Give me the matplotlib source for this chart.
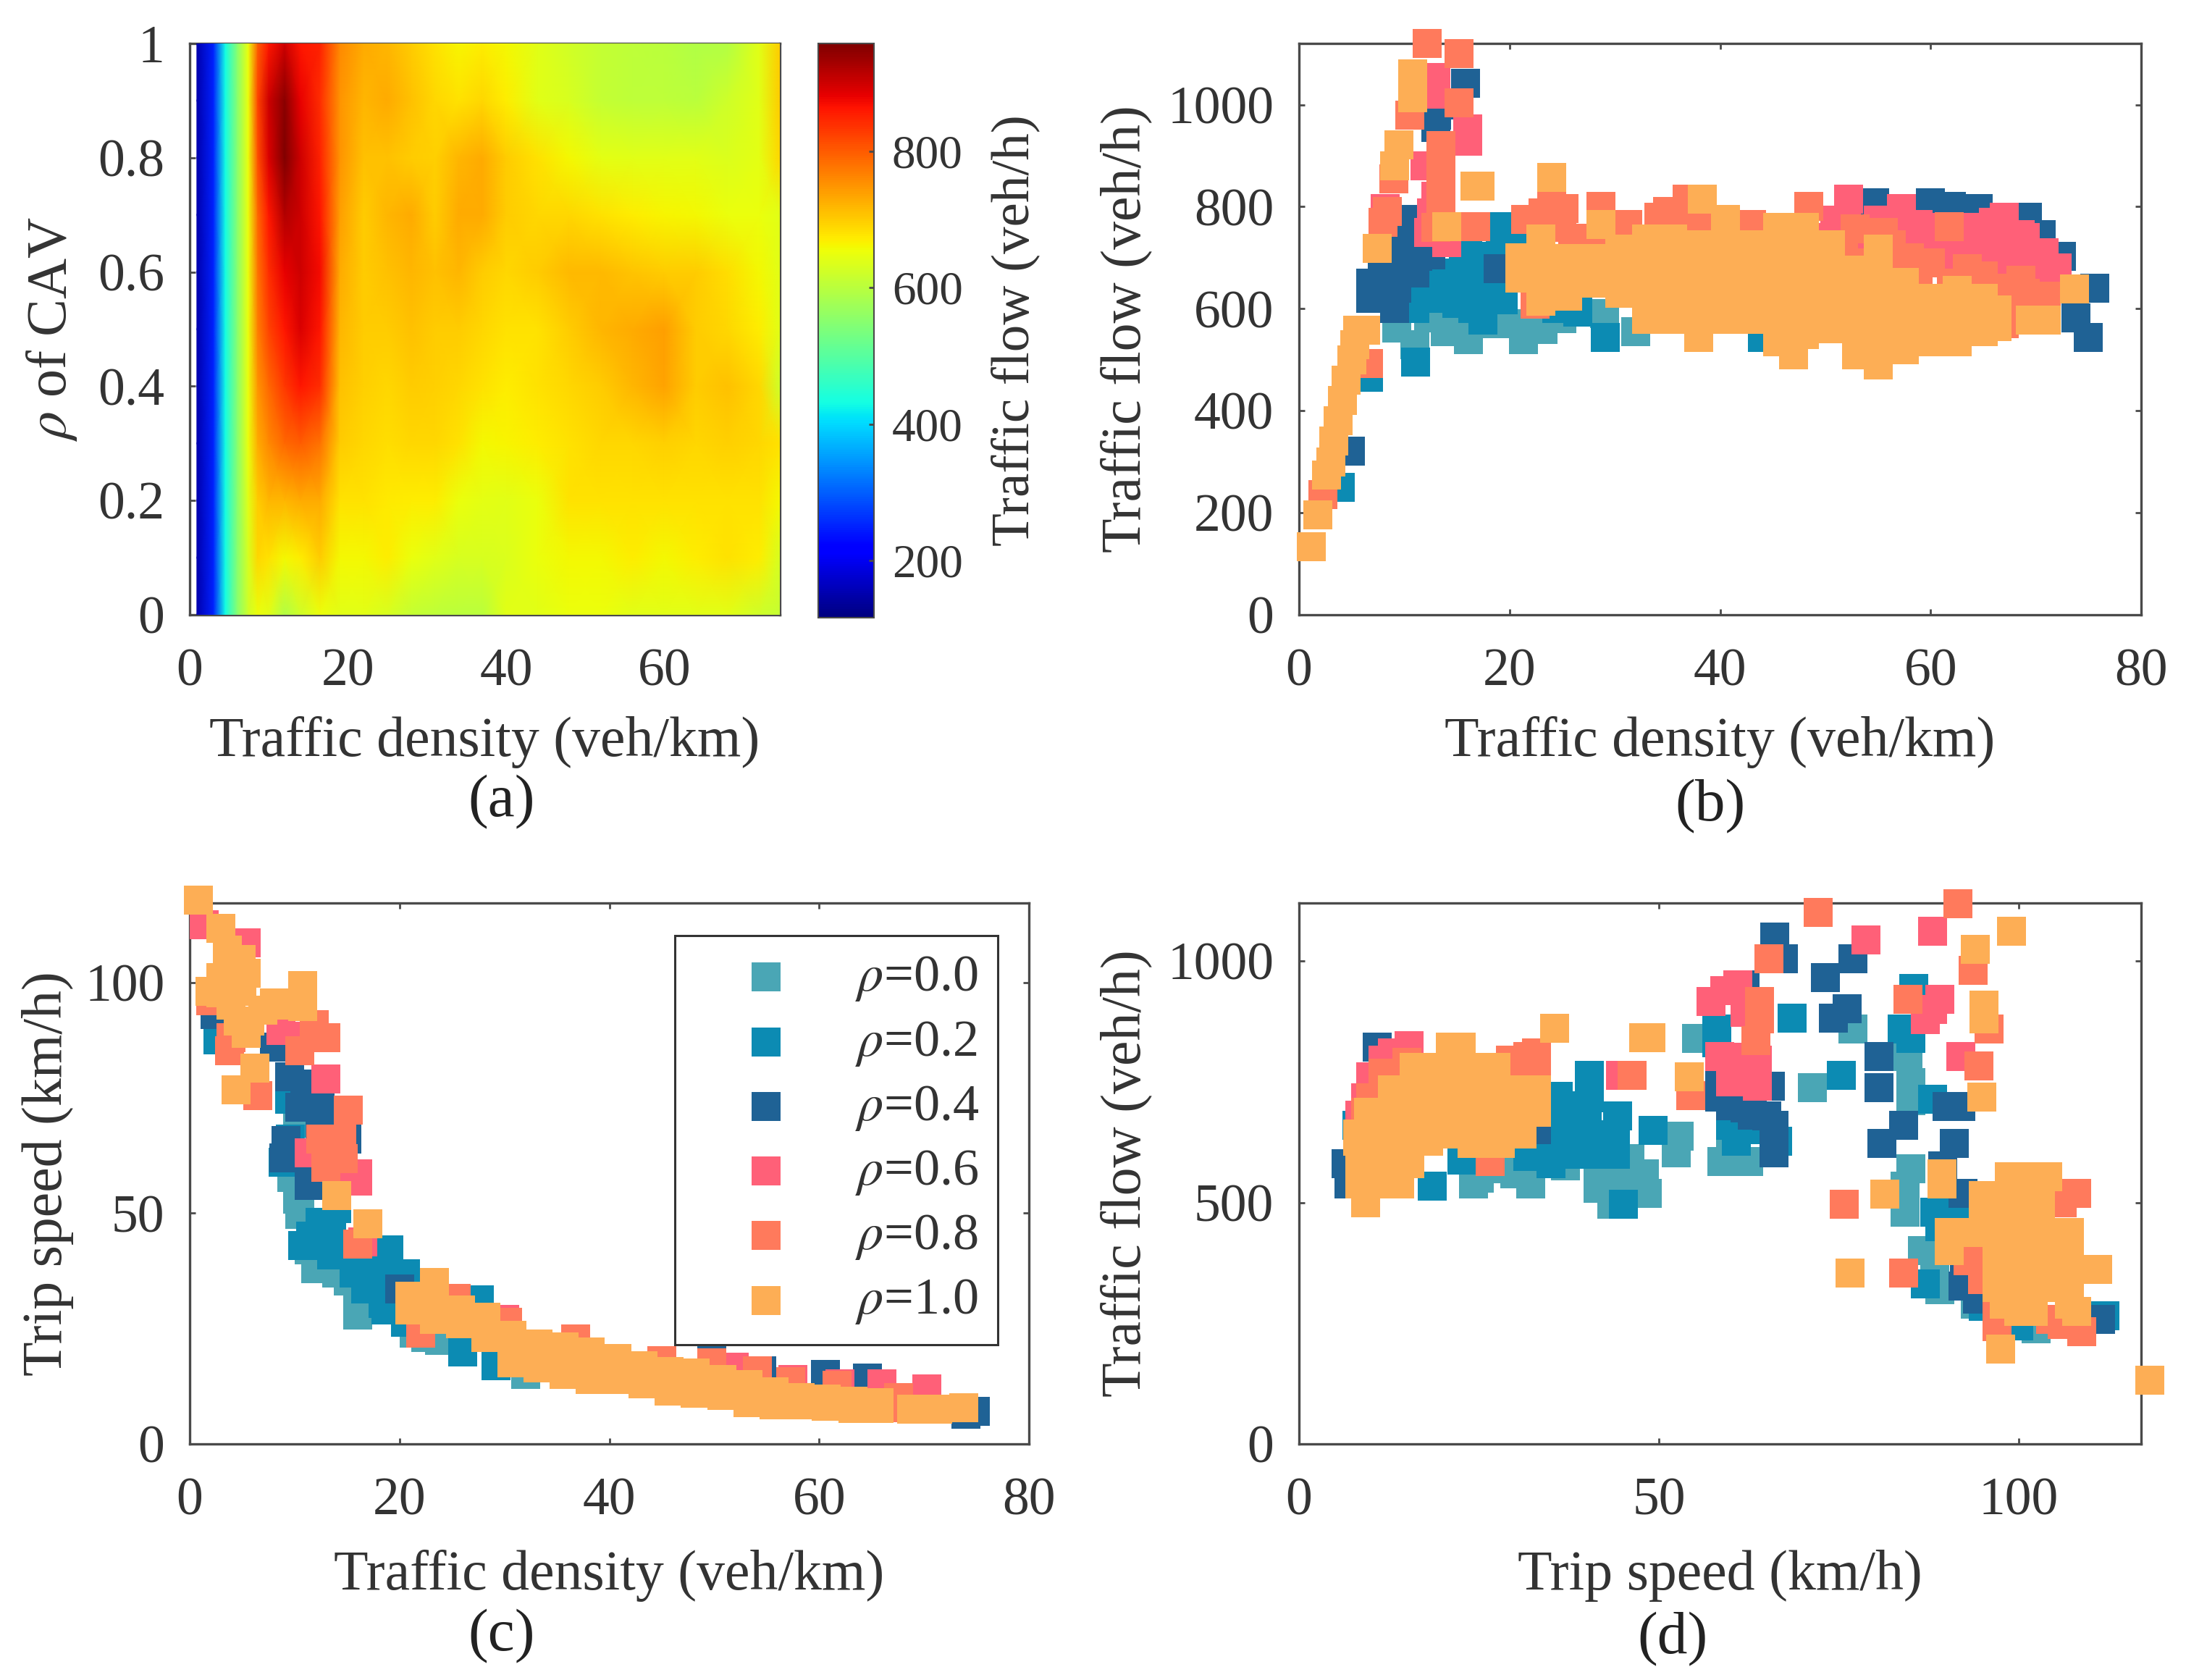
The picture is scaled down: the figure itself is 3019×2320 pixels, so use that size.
#!/usr/bin/env python3
# -*- coding: utf-8 -*-

import numpy as np
import matplotlib
matplotlib.use('Agg')
import matplotlib.pyplot as plt

plt.rcParams['font.family'] = ['Liberation Serif', 'DejaVu Serif']
plt.rcParams['mathtext.fontset'] = 'stix'

W, H = 3019, 2320
fs_tick = 53
fs_label = 56
fs_cap = 60
line_c = '#4a4a4a'
text_c = '#333333'

rho_labels = ['$\\rho$=0.0', '$\\rho$=0.2', '$\\rho$=0.4', '$\\rho$=0.6', '$\\rho$=0.8', '$\\rho$=1.0']
colors = ['#4AA6B5', '#0C8BB3', '#1F6295', '#FF6078', '#FF7A5C', '#FDAE55']

# (a) heat map, flow for density (columns) and CAV ratio (rows)
heat_density = [0.9, 3, 4.5, 6, 7.4, 8.6, 10, 12, 14, 16.5, 19, 22, 25, 28, 31, 34, 37, 40, 44, 48, 52, 56, 60, 64, 68, 72, 74.6]
heat_rho = [0, 0.1, 0.2, 0.3, 0.4, 0.5, 0.6, 0.7, 0.8, 0.9, 1.0]
heat_flow = [
    [150, 250, 430, 550, 620, 650, 640, 590, 620, 650, 640, 640, 630, 610, 605, 600, 600, 640, 640, 650, 650, 640, 640, 640, 640, 620, 610],
    [150, 250, 430, 550, 630, 690, 680, 660, 670, 700, 660, 660, 670, 650, 640, 630, 630, 635, 650, 660, 660, 670, 660, 670, 680, 670, 630],
    [150, 250, 430, 550, 640, 700, 720, 720, 730, 730, 680, 680, 675, 670, 670, 650, 645, 640, 650, 680, 680, 680, 680, 680, 680, 680, 660],
    [150, 250, 430, 550, 650, 730, 760, 790, 800, 780, 700, 690, 685, 690, 690, 680, 660, 665, 670, 680, 690, 690, 695, 690, 695, 690, 680],
    [150, 250, 430, 550, 650, 750, 790, 830, 860, 840, 710, 695, 690, 700, 695, 690, 680, 670, 680, 690, 700, 720, 735, 700, 710, 690, 620],
    [150, 250, 430, 550, 650, 770, 820, 860, 890, 860, 720, 700, 700, 710, 700, 700, 690, 680, 680, 700, 720, 730, 740, 700, 690, 670, 640],
    [150, 250, 430, 550, 650, 780, 840, 880, 900, 870, 730, 700, 710, 720, 710, 720, 700, 690, 700, 715, 715, 705, 700, 700, 685, 660, 640],
    [150, 250, 430, 550, 650, 790, 860, 920, 900, 860, 740, 700, 720, 730, 700, 730, 730, 700, 690, 690, 680, 670, 665, 660, 650, 650, 640],
    [150, 250, 430, 550, 650, 810, 890, 955, 900, 850, 750, 710, 710, 700, 695, 720, 730, 700, 680, 660, 645, 640, 640, 640, 635, 645, 690],
    [150, 250, 430, 550, 650, 820, 900, 950, 880, 840, 750, 720, 730, 710, 690, 680, 690, 670, 640, 630, 610, 605, 605, 600, 620, 640, 700],
    [150, 250, 430, 550, 650, 800, 860, 900, 860, 850, 760, 730, 720, 700, 680, 665, 670, 660, 640, 625, 610, 605, 600, 590, 595, 640, 700],
]

# (b) density, flow
b_rho00 = [(12.3, 582), (9.3, 562), (11, 530), (13.9, 555), (16.1, 539), (21.3, 539), (23.2, 559), (25, 580), (32, 555), (29, 590), (18.5, 570), (15, 590), (21, 570)]
b_rho02 = [(19.1, 761), (19.1, 720), (21, 745), (17.2, 703), (15.6, 679), (13.4, 656), (11.5, 632), (14.5, 625), (17.5, 601), (17.5, 578), (19.4, 617), (26.5, 594), (29.1, 543),
           (11.1, 496), (44, 543), (18, 650), (16, 720), (15, 640), (12, 660), (3.9, 250), (6.6, 465), (24.5, 600), (20, 690), (16, 650), (13, 620), (16.5, 600), (19, 660), (14, 670), (17.5, 700),
           (11, 600), (15, 610)]
b_rho04 = [(15.8, 1042), (13.1, 979), (13, 955), (7.9, 664), (6.8, 621), (9.1, 601), (9.3, 640), (11.3, 703), (9.8, 742), (18.9, 679), (54.7, 808), (60, 808), (64.5, 796),
           (64.5, 777), (62, 800), (69.2, 780), (70.5, 745), (72.4, 703), (75.6, 640), (73.8, 582), (75, 543), (71.4, 664), (4.9, 321), (11, 670), (14, 1000),
           (8, 690), (10.5, 690), (12.5, 705), (10, 710), (6.8, 650), (9, 660), (10, 775)]
b_rho06 = [(13, 1053), (13, 1020), (16, 929), (16, 952), (12.3, 750), (12.6, 788), (8.2, 796), (14, 730), (52.2, 815), (50.9, 773), (57.2, 796), (58.8, 765), (55, 773), (67, 780), (68.5, 745),
           (64.8, 703), (70.8, 710), (68, 710), (61, 718), (59.3, 718), (63.2, 725), (66, 735), (53, 735), (60, 760), (64, 760), (12, 880), (13, 820), (62, 750), (66, 700), (55, 745), (57, 750),
           (70, 680), (72, 680), (69, 740), (50, 740), (61, 700), (67, 660), (64, 740), (66, 770), (52, 770), (60, 735)]
b_rho08 = [(12.2, 1120), (15.2, 1100), (15.2, 1003), (10.5, 979), (13.5, 920), (13.5, 870), (13.5, 820), (13.5, 790), (9, 855), (8.4, 790), (8, 770), (16.8, 761),
           (23.2, 788), (25.2, 796), (28.7, 800), (31.2, 765), (26, 738), (28, 730), (34.2, 780), (36.9, 815), (38.6, 773), (43, 765), (48.4, 800), (56.3, 726), (56.6, 687),
           (61.8, 761), (63.5, 679), (68.6, 656), (71, 625), (51.7, 710), (52.8, 757), (58.8, 664), (67, 570), (22.4, 609), (24.3, 640), (6.6, 492), (2.3, 235), (24, 825),
           (35, 790), (13, 760), (69, 630), (70, 600), (36, 770), (38, 760), (30, 745), (25, 760), (21.5, 775), (66, 640), (54, 690), (56, 660), (60, 690), (62, 650), (65, 665), (31, 735), (41, 755), (43, 745),
           (55.5, 750), (52, 690), (58, 700), (68, 600), (66, 615)]
b_rho10 = [(1.2, 134), (1.8, 196), (2.6, 274), (3, 300), (3.3, 340), (3.7, 380), (4.1, 420), (4.5, 460), (5, 500), (5.3, 530), (5.6, 558), (6.3, 558), (7.4, 718), (9.5, 921), (9.1, 880), (10.8, 1061),
           (10.8, 1014), (17.2, 840), (16.7, 840), (14, 761), (24, 858), (28.7, 765), (38.3, 815), (40.5, 775),
           (21, 700), (21, 660), (23, 737), (23, 695), (23, 655), (23, 615), (25.5, 698), (25.5, 655), (25.5, 625), (28, 698), (28, 650), (30.5, 717), (30.5, 672), (30.5, 630),
           (33, 737), (33, 695), (33, 650), (33, 605), (33, 579), (35.5, 737), (35.5, 695), (35.5, 650), (35.5, 605), (35.5, 579),
           (38, 725), (38, 680), (38, 635), (38, 590), (38, 544), (40.5, 725), (40.5, 680), (40.5, 635), (40.5, 590), (40.5, 579), (43, 725), (43, 680), (43, 635), (43, 590), (43, 579),
           (45.5, 760), (45.5, 715), (45.5, 670), (45.5, 625), (45.5, 580), (45.5, 535), (47, 510), (48, 760), (48, 715), (48, 670), (48, 625), (48, 580), (48, 550),
           (50.5, 725), (50.5, 680), (50.5, 635), (50.5, 590), (50.5, 560), (53, 675), (53, 630), (53, 585), (53, 540), (53, 510),
           (55, 717), (55, 672), (55, 627), (55, 582), (55, 537), (55, 490), (57.5, 651), (57.5, 606), (57.5, 561), (57.5, 520), (60, 620), (60, 580), (60, 535),
           (62.5, 636), (62.5, 590), (62.5, 535), (65, 620), (65, 580), (65, 555), (66.3, 597), (66.3, 565), (73.7, 639), (69.5, 578), (71, 578)]

# (c) density, trip speed
c_rho00 = [(10.3, 69.5), (9.7, 57.8), (10.5, 49.7), (10.3, 53), (11.4, 42), (13.3, 40.9), (15.1, 35.3), (16, 31.2), (17.9, 29.6), (21.4, 24), (23.8, 22.4), (32, 15), (12, 38), (14, 37), (16, 28), (22.5, 23)]
c_rho02 = [(9.5, 74.7), (12.4, 48), (10.8, 43), (17, 39), (18.7, 39), (16.8, 33.6), (18.4, 30.4), (20.6, 36.9), (29.2, 17), (8.9, 61), (13.5, 41), (15, 43), (2.7, 87.6), (20.6, 26.4), (27.6, 31.2),
           (26, 20), (13.5, 47), (11.5, 45), (15.7, 41), (15.7, 37), (17, 36), (18.7, 36), (18.7, 29), (13.3, 45), (14, 51), (19, 42), (9.6, 66), (19.5, 32), (20, 29)]
c_rho04 = [(9.5, 79.5), (12.4, 73), (9.2, 65.8), (15, 66), (8.1, 86), (11.4, 56), (20, 33.6), (74.9, 7), (74, 6.5), (64.6, 14.3), (60.6, 15), (54.5, 15.8), (2.4, 93), (49.8, 18), (9, 62), (11, 62), (11, 78), (12.4, 68), (10.5, 73)]
c_rho06 = [(13, 79), (8.7, 89.6), (11.4, 88.4), (16, 58.6), (11.4, 63), (16, 57), (1.4, 112.5), (5.4, 108.5), (51.9, 16.7), (57.5, 14), (66, 13.1), (70.3, 11.9), (16.5, 43.7), (30, 27), (62, 13), (14, 58)]
c_rho08 = [(25.4, 31.6), (11.9, 90.8), (10.5, 85.2), (3.8, 85.2), (6.5, 75.5), (15.1, 72.3), (14, 65), (14.6, 61.8), (16, 43.3), (22, 24), (54.1, 15.9), (49.8, 17.5), (45, 18), (36.8, 22.8),
           (30.3, 26.4), (57.3, 13.5), (61.7, 12.7), (67.6, 7.9), (67.6, 10), (13, 88), (13, 64), (2, 96), (13, 60), (14.5, 66), (12.5, 66), (3.9, 88)]
c_rho10 = [(0.8, 117.8), (3, 111.7), (3.6, 107), (3, 101), (4.9, 105), (5.4, 102), (1.9, 98), (3, 97.7), (5, 98), (4.6, 91.6), (5.7, 91.6), (5.4, 89), (3.9, 95), (8.1, 95.6), (9.5, 95), (10.8, 99.3), (10.8, 94.8), (7, 94),
           (6.2, 81.5), (4.4, 76.7), (14, 53.8), (17, 47.7),
           (21, 32), (21, 29), (23.3, 35), (23.3, 30), (23.3, 27), (25.8, 29), (25.8, 26), (28.2, 27.4), (28.2, 23), (30.7, 23.5), (30.7, 19), (30.7, 17.5), (33.2, 21.7), (33.2, 17), (33.2, 16.5),
           (35.7, 21), (35.7, 17), (35.7, 15), (38.2, 20), (38.2, 15), (38.2, 14), (40.7, 18.5), (40.7, 14), (43.2, 16.9), (43.2, 13), (45.7, 15.7), (45.7, 11.5), (48.2, 15.3), (48.2, 11),
           (50.7, 14), (50.7, 10.5), (53.2, 12.9), (53.2, 9), (55.7, 11.3), (55.7, 8.5), (58.2, 10), (58.2, 8.5), (60.7, 9.7), (60.7, 8.1), (63.2, 9.3), (63.2, 7.7), (65.7, 9), (65.7, 7.7),
           (68.8, 7.6), (71.3, 7.6), (73.8, 7.9)]

# (d) trip speed, flow
d_rho00 = [(55.2, 840), (77, 859), (71.3, 737), (84.6, 802), (85, 748), (85, 710), (52.8, 637), (52.4, 603), (58.8, 584), (62.5, 584), (24.2, 538), (25, 550), (32.2, 538), (41.5, 565),
           (45.5, 557), (48.4, 519), (43.5, 496), (84.2, 534), (84.2, 480), (86.6, 400), (88.3, 358), (102.4, 239), (43.1, 618), (37, 576), (48, 560), (47, 530), (44, 530), (28, 570), (94, 290), (85, 570),
           (43, 585), (46, 590), (41.5, 530), (45, 510), (30, 560), (60.5, 590), (60, 610), (89, 320)]
d_rho02 = [(85.4, 943), (68.5, 882), (58, 859), (75.4, 763), (83.8, 859), (88, 714), (40.3, 763), (40.3, 717), (44.3, 679), (49.2, 649), (36.7, 672), (38, 700), (39, 626), (34.3, 634), (31.8, 595),
           (18.5, 534), (22.6, 587), (45.1, 496), (60.8, 626), (66.5, 626), (35, 580), (88.3, 480), (91.5, 480), (87, 331), (95.1, 285), (58, 830), (112, 265), (100, 245), (85, 840), (62, 650), (8, 660),
           (36, 626), (36, 600), (40, 680), (44, 640), (44, 600), (32, 640), (38, 600), (41.5, 600), (36, 720), (40, 650), (60, 660), (65, 650), (89, 450), (95, 300)]
d_rho04 = [(66.1, 1050), (67.3, 1004), (77, 1004), (73.1, 966), (76.2, 901), (74.2, 882), (80.6, 802), (80.6, 737), (90, 698), (92, 698), (84, 660), (81, 622), (91, 622), (89.4, 576), (62, 951), (58.4, 718),
           (62, 695), (65, 679), (66, 603), (66, 620), (92.3, 519), (92.3, 327), (94.3, 300), (111.4, 258), (10.9, 821), (6.9, 538), (6.5, 580), (33, 650), (60, 750),
           (58.4, 750), (60, 700), (63, 680), (66, 660), (92.5, 350), (65.5, 740)]
d_rho06 = [(78.8, 1043), (88, 1062), (59.2, 939), (57.2, 916), (62, 893), (89, 920), (87, 878), (91.9, 802), (44.7, 763), (15.3, 825), (11.7, 794), (9.3, 717), (58.4, 802), (63.7, 794), (63.7, 740), (60, 771), (8.5, 680),
           (61, 800), (60, 750), (62, 770), (10, 760), (61, 950), (88, 900), (13, 810)]
d_rho08 = [(72.1, 1100), (91.5, 1119), (65.3, 1004), (93.7, 981), (84.6, 920), (95.9, 859), (94.5, 783), (64, 916), (64, 880), (63.5, 835), (46.3, 763), (31.8, 802), (29.4, 794), (33, 810), (27, 740),
           (11.7, 767), (10, 717), (9.3, 687), (26.6, 584), (54.4, 721), (108, 519), (75.8, 497), (84, 354), (92.7, 419), (94.3, 381), (91.5, 404), (97, 243), (108.8, 232), (104.4, 258), (106, 500), (33, 780), (15, 790),
           (30, 760), (32, 770), (95, 340), (93, 380), (97, 265), (106, 248)]
d_rho10 = [(118.2, 132), (99, 1062), (94, 1024), (95.2, 909), (95.2, 880), (47.9, 841), (48.9, 841), (35.5, 861), (54.2, 760), (94.9, 718), (81.4, 517), (89.3, 538), (89.3, 560), (76.6, 354), (97.5, 197), (27.4, 779),
           (9.3, 500), (8.5, 538), (10, 538), (12, 538), (14, 538), (8.5, 580), (10.5, 580), (12.5, 580), (14.5, 580), (15.4, 580),
           (8.1, 626), (10, 626), (12, 626), (14, 626), (16, 626), (18, 626), (24, 622), (26, 622), (28, 622),
           (8.1, 641), (10, 641), (12, 641), (14, 641), (16, 641), (18, 641), (20, 641), (22, 641), (24, 641), (26, 641), (28, 641), (31, 641),
           (9.7, 687), (12, 687), (14, 687), (16, 687), (18, 687), (20, 687), (22, 687), (24, 687), (26, 687), (28, 687), (30, 687), (33, 687),
           (13, 733), (15, 733), (17, 733), (19, 733), (21, 733), (23, 733), (25, 733), (27, 720), (30, 733), (33, 733),
           (16, 779), (18, 779), (20, 779), (22, 779), (24, 779), (21, 821), (22.5, 821),
           (98.7, 553), (101.2, 553), (104, 553), (95.1, 515), (97, 515), (99, 515), (101, 515), (103, 515), (95.1, 477), (98.7, 477), (101, 477), (103, 477),
           (90.3, 438), (92, 438), (96, 438), (99, 438), (101, 438), (103, 438), (105, 438), (107, 438), (90.3, 400), (97, 400), (99, 400), (101, 400), (103, 400), (105, 400), (107, 400),
           (97, 362), (99, 362), (101, 362), (103, 362), (105, 362), (107, 362), (109, 362), (111, 362), (97, 324), (99, 324), (101, 324), (103, 324), (105, 324), (107, 324),
           (98, 289), (100, 289), (102, 289), (107, 289), (100, 274), (102, 274), (108, 274)]

panel_b = [b_rho00, b_rho02, b_rho04, b_rho06, b_rho08, b_rho10]
panel_c = [c_rho00, c_rho02, c_rho04, c_rho06, c_rho08, c_rho10]
panel_d = [d_rho00, d_rho02, d_rho04, d_rho06, d_rho08, d_rho10]


def axes_px(left, right, top, bottom):
    return fig.add_axes([left / W, 1 - bottom / H, (right - left) / W, (bottom - top) / H])


def style_axes(ax):
    for s in ax.spines.values():
        s.set_linewidth(2.4)
        s.set_color(line_c)
    ax.tick_params(direction='in', length=6, width=2, color=line_c, labelsize=fs_tick,
                   labelcolor=text_c, top=True, right=True)
    ax.tick_params(axis='x', pad=33)
    ax.tick_params(axis='y', pad=25)


def squares(ax, panel):
    for pts, c, lab in zip(panel, colors, rho_labels):
        x, y = np.array(pts).T
        ax.scatter(x, y, s=800, marker='s', color=c, linewidths=0, label=lab, clip_on=False, zorder=3)


fig = plt.figure(figsize=(W / 100, H / 100), dpi=100)

# (a)
ax_a = axes_px(262, 1077, 60, 849)
style_axes(ax_a)
ax_a.tick_params(top=False, right=False)
mesh = ax_a.pcolormesh(heat_density, heat_rho, np.array(heat_flow), shading='gouraud', cmap='jet', vmin=116, vmax=958, zorder=3)
ax_a.set_xlim(0, 74.6)
ax_a.set_ylim(0, 1)
ax_a.set_xticks([0, 20, 40, 60])
ax_a.set_yticks([0, 0.2, 0.4, 0.6, 0.8, 1])
ax_a.set_yticklabels(['0', '0.2', '0.4', '0.6', '0.8', '1'])
ax_a.set_xlabel('Traffic density (veh/km)', fontsize=fs_label, color=text_c)
ax_a.set_ylabel('$\\rho$ of CAV', fontsize=fs_label, color=text_c)
ax_a.xaxis.set_label_coords(0.5, -0.178)
ax_a.yaxis.set_label_coords(-0.188, 0.5)

cax = axes_px(1130, 1207, 60, 853)
cbar = fig.colorbar(mesh, cax=cax, ticks=[200, 400, 600, 800])
cbar.outline.set_linewidth(1.5)
cbar.outline.set_edgecolor(line_c)
cax.tick_params(direction='in', length=5, width=2, color=line_c, labelsize=47, labelcolor=text_c, pad=18)
cbar.set_label('Traffic flow (veh/h)', fontsize=54, color=text_c, labelpad=28)

# (b)
ax_b = axes_px(1794, 2957, 60, 849)
style_axes(ax_b)
squares(ax_b, panel_b)
ax_b.set_xlim(0, 80)
ax_b.set_ylim(0, 1120)
ax_b.set_xticks([0, 20, 40, 60, 80])
ax_b.set_yticks([0, 200, 400, 600, 800, 1000])
ax_b.set_xlabel('Traffic density (veh/km)', fontsize=fs_label, color=text_c)
ax_b.set_ylabel('Traffic flow (veh/h)', fontsize=fs_label, color=text_c)
ax_b.xaxis.set_label_coords(0.5, -0.178)
ax_b.yaxis.set_label_coords(-0.174, 0.5)

# (c)
ax_c = axes_px(262, 1421, 1247, 1994)
style_axes(ax_c)
squares(ax_c, panel_c)
ax_c.set_xlim(0, 80)
ax_c.set_ylim(0, 117.2)
ax_c.set_xticks([0, 20, 40, 60, 80])
ax_c.set_yticks([0, 50, 100])
ax_c.set_xlabel('Traffic density (veh/km)', fontsize=fs_label, color=text_c)
ax_c.set_ylabel('Trip speed (km/h)', fontsize=fs_label, color=text_c)
ax_c.xaxis.set_label_coords(0.5, -0.195)
ax_c.yaxis.set_label_coords(-0.138, 0.5)
leg = ax_c.legend(loc='upper left', bbox_to_anchor=(0.578, 0.94), fontsize=52, frameon=True, fancybox=False,
                  edgecolor='#333333', framealpha=1, borderaxespad=0, borderpad=0.36, labelspacing=0.3,
                  handletextpad=0.32, handlelength=2.77, scatterpoints=1, labelcolor=text_c)
leg.get_frame().set_linewidth(2.2)
leg.set_zorder(5)

# (d)
ax_d = axes_px(1794, 2957, 1247, 1994)
style_axes(ax_d)
squares(ax_d, panel_d)
ax_d.set_xlim(0, 117)
ax_d.set_ylim(0, 1120)
ax_d.set_xticks([0, 50, 100])
ax_d.set_yticks([0, 500, 1000])
ax_d.set_xlabel('Trip speed (km/h)', fontsize=fs_label, color=text_c)
ax_d.set_ylabel('Traffic flow (veh/h)', fontsize=fs_label, color=text_c)
ax_d.xaxis.set_label_coords(0.5, -0.195)
ax_d.yaxis.set_label_coords(-0.174, 0.5)

# sub captions
for s, px, py in [('(a)', 693, 1108), ('(b)', 2362, 1114), ('(c)', 693, 2260), ('(d)', 2310, 2264)]:
    fig.text(px / W, 1 - py / H, s, fontsize=fs_cap, color='#222222', ha='center', va='center')

fig.savefig('out.png', dpi=100)
